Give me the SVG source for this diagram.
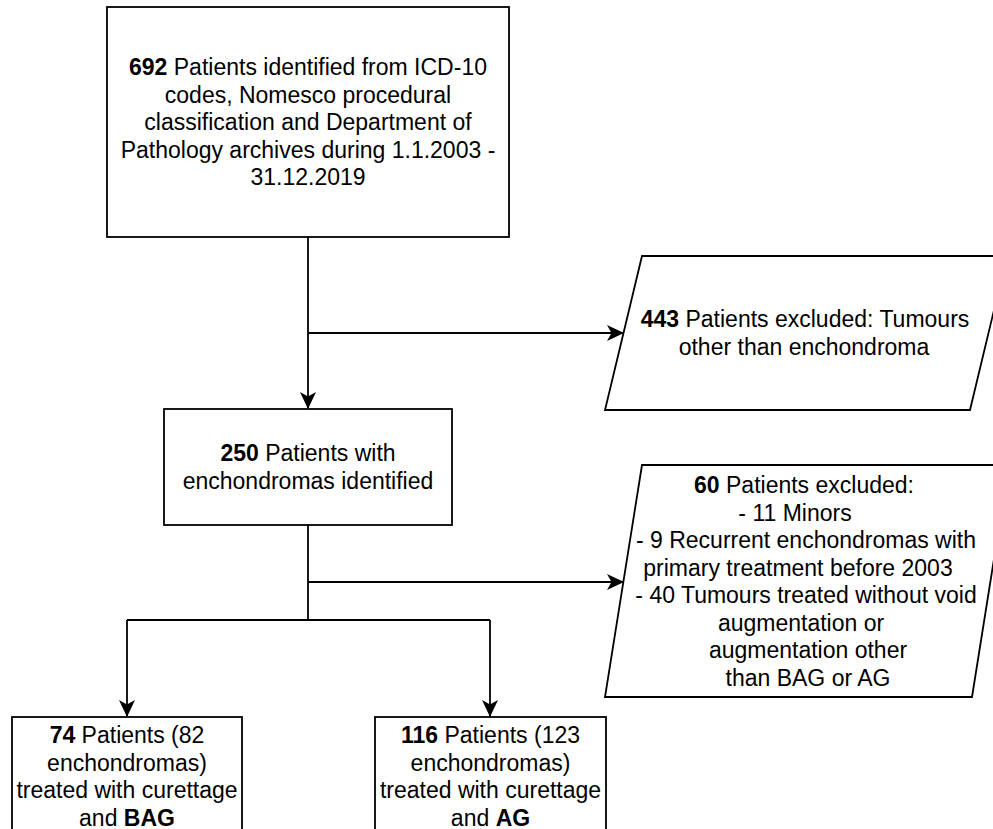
<svg xmlns="http://www.w3.org/2000/svg" width="993" height="829" viewBox="0 0 993 829">
<defs>
<style>
.box{fill:#fff;stroke:#000;stroke-width:1.8}
.edge{fill:none;stroke:#000;stroke-width:1.8}
text{font-family:"Liberation Sans",Arial,Helvetica,sans-serif;font-size:23px;fill:#000;text-anchor:middle}
.b{font-weight:bold}
</style>
<marker id="arr" markerUnits="userSpaceOnUse" viewBox="0 0 17 16" refX="16" refY="8" markerWidth="17" markerHeight="16" orient="auto">
<path d="M0,0 L17,8 L0,16 L4.5,8 Z" fill="#000"/>
</marker>
</defs>
<rect width="993" height="829" fill="#fff"/>
<g id="connectors">
<path class="edge" d="M308,237 V408" marker-end="url(#arr)"/>
<path class="edge" d="M308,333 H623" marker-end="url(#arr)"/>
<path class="edge" d="M308,525 V620"/>
<path class="edge" d="M308,582 H623" marker-end="url(#arr)"/>
<path class="edge" d="M127,620 H490"/>
<path class="edge" d="M127,620 V716" marker-end="url(#arr)"/>
<path class="edge" d="M490,620 V716" marker-end="url(#arr)"/>
</g>
<g id="n692">
<rect class="box" x="107" y="7" width="402" height="230"/>
<text x="308" y="75"><tspan class="b">692</tspan> Patients identified from ICD-10</text>
<text x="308" y="102.5">codes, Nomesco procedural</text>
<text x="308" y="130">classification and Department of</text>
<text x="308" y="157.5">Pathology archives during 1.1.2003 -</text>
<text x="308" y="185">31.12.2019</text>
</g>
<g id="n443">
<polygon class="box" points="642,256 1007,256 970,410 605,410"/>
<text x="805" y="327"><tspan class="b">443</tspan> Patients excluded: Tumours</text>
<text x="804" y="355">other than enchondroma</text>
</g>
<g id="n250">
<rect class="box" x="164" y="409" width="288" height="116"/>
<text x="308" y="461"><tspan class="b">250</tspan> Patients with</text>
<text x="308" y="489">enchondromas identified</text>
</g>
<g id="n60">
<polygon class="box" points="642,465 1009,465 972,697 605,697"/>
<text x="804" y="493"><tspan class="b">60</tspan> Patients excluded:</text>
<text x="795" y="520.5">- 11 Minors</text>
<text x="806" y="548">- 9 Recurrent enchondromas with</text>
<text x="798" y="575.5">primary treatment before 2003</text>
<text x="806" y="603">- 40 Tumours treated without void</text>
<text x="801" y="630.5">augmentation or</text>
<text x="808" y="658">augmentation other</text>
<text x="808" y="685.5">than BAG or AG</text>
</g>
<g id="n74">
<rect class="box" x="12" y="717" width="230" height="120"/>
<text x="127" y="743"><tspan class="b">74</tspan> Patients (82</text>
<text x="127" y="770.5">enchondromas)</text>
<text x="127" y="798">treated with curettage</text>
<text x="127" y="825.5">and <tspan class="b">BAG</tspan></text>
</g>
<g id="n116">
<rect class="box" x="375" y="717" width="231" height="120"/>
<text x="490.5" y="743"><tspan class="b">116</tspan> Patients (123</text>
<text x="490.5" y="770.5">enchondromas)</text>
<text x="490.5" y="798">treated with curettage</text>
<text x="490.5" y="825.5">and <tspan class="b">AG</tspan></text>
</g>
</svg>
